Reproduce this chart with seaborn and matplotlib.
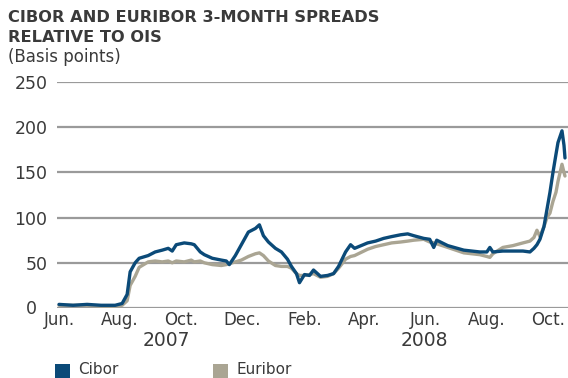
import matplotlib
matplotlib.use("Agg")
import matplotlib.pyplot as plt
import matplotlib.transforms as mtransforms
from matplotlib.patches import Rectangle
import seaborn as sns
import pandas as pd

dates = [
    "2007-06-01", "2007-06-15", "2007-06-29", "2007-07-13", "2007-07-27", "2007-08-03",
    "2007-08-08", "2007-08-11", "2007-08-16", "2007-08-20", "2007-08-29", "2007-09-05",
    "2007-09-12", "2007-09-18", "2007-09-22", "2007-09-26", "2007-10-04", "2007-10-11",
    "2007-10-14", "2007-10-20", "2007-10-24", "2007-11-01", "2007-11-10", "2007-11-15",
    "2007-11-18", "2007-11-24", "2007-11-30", "2007-12-07", "2007-12-14", "2007-12-18",
    "2007-12-22", "2007-12-27", "2008-01-03", "2008-01-09", "2008-01-15", "2008-01-19",
    "2008-01-24", "2008-01-27", "2008-02-01", "2008-02-06", "2008-02-10", "2008-02-17",
    "2008-02-24", "2008-03-01", "2008-03-06", "2008-03-13", "2008-03-18", "2008-03-22",
    "2008-04-04", "2008-04-12", "2008-04-20", "2008-04-28", "2008-05-07", "2008-05-14",
    "2008-05-20", "2008-05-30", "2008-06-05", "2008-06-09", "2008-06-12", "2008-06-23",
    "2008-07-09", "2008-07-25", "2008-08-01", "2008-08-04", "2008-08-07", "2008-08-17",
    "2008-08-27", "2008-09-06", "2008-09-13", "2008-09-17", "2008-09-20", "2008-09-23",
    "2008-09-27", "2008-09-30", "2008-10-03", "2008-10-06", "2008-10-09", "2008-10-11",
    "2008-10-15", "2008-10-17", "2008-10-18",
]
cibor = [
    4, 3, 4, 3, 3, 5,
    15, 40, 50, 55, 58, 62,
    64, 66, 63, 70, 72, 71,
    70, 62, 59, 55, 53, 52,
    48, 58, 70, 84, 88, 92,
    80, 73, 66, 62, 54, 46,
    38, 28, 37, 36, 42, 35,
    36, 38, 46, 62, 70, 66,
    72, 74, 77, 79, 81, 82,
    80, 77, 76, 67, 75, 69,
    64, 62, 62, 67, 62, 63,
    63, 63, 62, 66, 70, 76,
    90, 109, 128, 150, 170, 183,
    196, 180, 166,
]
euribor = [
    3, 3, 3, 2, 2, 3,
    8, 25, 35, 45, 51, 52,
    51, 52, 50, 52, 51, 53,
    51, 52, 50, 48, 47, 48,
    49, 51, 53, 57, 60, 61,
    58, 52, 47, 46, 46, 44,
    38, 36, 36, 37, 38, 34,
    35, 38, 44, 54, 57, 58,
    65, 68, 70, 72, 73, 74,
    75, 76, 73, 72, 71, 67,
    61, 59, 57, 56, 60, 67,
    69, 72, 74, 78, 86, 79,
    90, 100, 105, 118, 128, 140,
    159, 150, 146,
]
series_names = ["Cibor", "Euribor"]
month_labels = ["Jun.", "Aug.", "Oct.", "Dec.", "Feb.", "Apr.", "Jun.", "Aug.", "Oct."]
year_labels = ["2007", "2008"]
y_ticks = [0, 50, 100, 150, 200, 250]

colors = {"Cibor": "#0b4a78", "Euribor": "#aaa593"}
text_color = "#3a3a3a"
grid_color = "#9a9a9a"

df = pd.DataFrame({
    "date": pd.to_datetime(dates * 2),
    "value": cibor + euribor,
    "series": ["Cibor"] * len(dates) + ["Euribor"] * len(dates),
})

sns.set_style("white")
plt.rcParams["font.family"] = ["DejaVu Sans"]

fig = plt.figure(figsize=(5.68, 3.78), dpi=100)
ax = fig.add_axes([57 / 568, 1 - 308 / 378, 511 / 568, 226 / 378])

sns.lineplot(data=df, x="date", y="value", hue="series",
             hue_order=["Euribor", "Cibor"], palette=colors,
             linewidth=2.4, ax=ax, legend=False)

ax.set_ylim(0, 250)
ax.set_xlim(pd.Timestamp("2007-05-30"), pd.Timestamp("2008-10-21"))
ax.set_yticks(y_ticks)
ax.set_yticklabels([str(v) for v in y_ticks], color=text_color, fontsize=12.5)
for v in y_ticks:
    ax.axhline(v, color=grid_color, linewidth=1.6, zorder=0)

tick_dates = pd.date_range("2007-06-01", "2008-10-01", freq="2MS")
ax.set_xticks(tick_dates)
ax.set_xticklabels(month_labels, color=text_color, fontsize=12)
ax.tick_params(axis="both", length=0)
ax.tick_params(axis="y", pad=7)
ax.tick_params(axis="x", pad=2)
for s in ax.spines.values():
    s.set_visible(False)
ax.set_xlabel("")
ax.set_ylabel("")

# the "0" label sits further left than the others, clear of "Jun."
zero_label = ax.get_yticklabels()[0]
zero_label.set_transform(zero_label.get_transform() +
                         mtransforms.ScaledTranslation(-10 / 100, 1 / 100, fig.dpi_scale_trans))

fig.text(166 / 568, 1 - 341 / 378, year_labels[0], ha="center", va="center",
         color=text_color, fontsize=13.5)
fig.text(424 / 568, 1 - 341 / 378, year_labels[1], ha="center", va="center",
         color=text_color, fontsize=13.5)

fig.text(8 / 568, 1 - 17 / 378, "CIBOR AND EURIBOR 3-MONTH SPREADS", ha="left", va="center",
         color=text_color, fontsize=11.7, fontweight="bold")
fig.text(8 / 568, 1 - 37 / 378, "RELATIVE TO OIS", ha="left", va="center",
         color=text_color, fontsize=11.7, fontweight="bold")
fig.text(8 / 568, 1 - 57 / 378, "(Basis points)", ha="left", va="center",
         color=text_color, fontsize=12)

legend_items = [("Cibor", 55, 78), ("Euribor", 213, 236)]
for name, xs, xt in legend_items:
    fig.patches.append(Rectangle((xs / 568, 1 - 378 / 378), 15 / 568, 14 / 378,
                                 transform=fig.transFigure, facecolor=colors[name],
                                 edgecolor="none"))
    fig.text(xt / 568, 1 - 370 / 378, name, ha="left", va="center",
             color=text_color, fontsize=11)

fig.savefig("out.png", dpi=100)
